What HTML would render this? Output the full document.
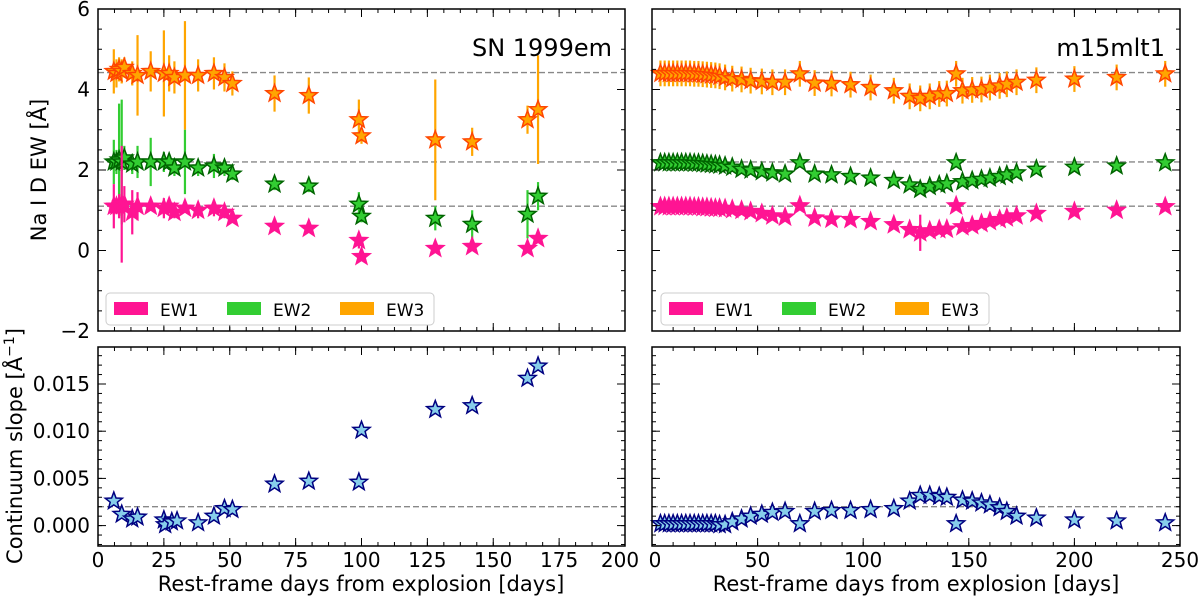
<!DOCTYPE html>
<html><head><meta charset="utf-8"><style>
body{margin:0;background:#fff;}
svg{font-family:"DejaVu Sans","Liberation Sans",sans-serif;}
</style></head><body>
<svg id="fig" width="1200" height="600" viewBox="0 0 1200 600" xmlns="http://www.w3.org/2000/svg"></svg>
<script>
// ---- SN 1999em data ----
const leftDays = [6,7,8,9,10,13,15,20,25,27,29,33,38,44,48,51,67,80,99,100,128,142,163,167];
const leftEW3 = [4.45,4.4,4.5,4.45,4.55,4.4,4.35,4.45,4.4,4.4,4.3,4.35,4.35,4.4,4.3,4.15,3.9,3.85,3.25,2.85,2.75,2.7,3.25,3.5];
const leftEW3err = [0.55,0.35,0.3,0.3,0.25,0.3,1.0,0.5,1.07,0.45,0.4,1.35,0.4,0.4,0.35,0.3,0.45,0.45,0.5,0.2,1.5,0.35,0.35,1.35];
const leftEW2 = [2.2,2.2,2.25,2.2,2.3,2.15,2.2,2.2,2.2,2.2,2.05,2.2,2.05,2.1,2.05,1.9,1.65,1.6,1.15,0.85,0.8,0.65,0.9,1.35];
const leftEW2err = [0.55,0.3,1.4,1.55,0.3,0.25,0.4,0.6,0.25,0.2,0.2,0.8,0.2,0.3,0.2,0.15,0.15,0.15,0.3,0.15,0.3,0.35,0.6,0.35];
const leftEW1 = [1.1,1.1,1.1,1.15,1.15,0.95,1.1,1.1,1.05,1.1,0.95,1.05,1.0,1.05,0.95,0.8,0.6,0.55,0.25,-0.15,0.05,0.1,0.05,0.3];
const leftEW1err = [0.55,0.2,0.3,1.45,0.45,0.55,0.35,0.1,0.25,0.1,0.15,0.1,0.2,0.2,0.15,0.1,0.05,0.05,0.2,0.1,0.05,0.05,0.05,0.1];
const leftSlopeDays = [6,9,13,15,25,25.5,28,30,38,44,48,51,67,80,99,100,128,142,163,167];
const leftSlope = [0.0026,0.0012,0.0007,0.0009,0.0006,0.0001,0.0004,0.0005,0.0003,0.0010,0.0018,0.0017,0.0044,0.0047,0.0046,0.0101,0.0123,0.0127,0.0156,0.0169];
// ---- m15mlt1 data ----
const rightDays = [4,6,8,10,12,14,16,18,20,22,24,26,28,30,32,34.6,38,42.4,46.7,52,57,63,70,77,85,94,103.5,114.5,122,127,131.5,136,139.6,144,147,151.6,156,160,164.6,168,172.6,182,200,220,243];
const rightEW3 = [4.4,4.4,4.4,4.4,4.4,4.4,4.4,4.4,4.39,4.39,4.38,4.37,4.36,4.35,4.33,4.3,4.27,4.25,4.22,4.2,4.18,4.18,4.39,4.16,4.15,4.12,4.05,3.97,3.83,3.78,3.83,3.89,3.9,4.39,3.97,3.99,4.0,4.05,4.09,4.13,4.18,4.23,4.26,4.3,4.39];
const rightEW2 = [2.18,2.18,2.18,2.18,2.18,2.18,2.18,2.18,2.17,2.17,2.16,2.15,2.14,2.13,2.12,2.1,2.07,2.02,2.0,1.96,1.93,1.9,2.18,1.9,1.88,1.84,1.8,1.74,1.63,1.52,1.59,1.63,1.66,2.18,1.71,1.74,1.77,1.8,1.84,1.88,1.93,2.02,2.07,2.1,2.18];
const rightEW1 = [1.09,1.09,1.09,1.09,1.09,1.09,1.09,1.09,1.08,1.08,1.07,1.07,1.06,1.05,1.05,1.04,1.02,1.0,0.97,0.92,0.86,0.83,1.11,0.81,0.78,0.77,0.72,0.64,0.52,0.44,0.49,0.52,0.53,1.11,0.59,0.62,0.67,0.72,0.77,0.81,0.86,0.92,0.97,1.0,1.09];
const rightSlope = [0.0002,0.0002,0.0002,0.0002,0.0002,0.0002,0.0002,0.0002,0.0002,0.0002,0.0002,0.0002,0.0002,0.0002,0.0001,0.0001,0.0004,0.0007,0.0010,0.0012,0.0014,0.0015,0.0002,0.0015,0.0016,0.0016,0.0017,0.0018,0.0026,0.0032,0.0032,0.0031,0.0030,0.0002,0.0027,0.0026,0.0024,0.0022,0.0019,0.0015,0.0010,0.0008,0.0006,0.0005,0.0003];
const refLevels = [4.42,2.2,1.1];
const slopeRef = 0.002;
const xTicksLeft = [0,25,50,75,100,125,150,175,200];
const xTicksRight = [0,50,100,150,200,250];
const yTicksTop = [-2,0,2,4,6];
const yTicksBottom = [0,0.005,0.010,0.015];
const yTickLabelsBottom = ["0.000","0.005","0.010","0.015"];

const NS = "http://www.w3.org/2000/svg";
const svg = document.getElementById('fig');
function el(tag, attrs, parent){const e=document.createElementNS(NS,tag);for(const k in attrs)e.setAttribute(k,attrs[k]);(parent||svg).appendChild(e);return e;}

const topY0=9, topY1=331, botY0=347, botY1=546;
const yTop = v => topY0 + (6 - v) * (topY1-topY0)/8;
const yBot = v => 525.6 - v * 9440;
const xLeft = d => 98 + d * 527/200;
const xRight = d => 652 + d * 528/250;
const STAR_R = 9;

function starPath(cx,cy,r){
  let p='';
  for(let i=0;i<10;i++){
    const rr = i%2===0 ? r : r*0.42;
    const a = -Math.PI/2 + i*Math.PI/5;
    p += (i?'L':'M') + (cx+rr*Math.cos(a)).toFixed(2)+','+(cy+rr*Math.sin(a)).toFixed(2);
  }
  return p+'Z';
}

function panelFrame(x0,x1,y0,y1,name,xf,xMaj,xMinStep,xMax,yf,yMajVals,yMinStep,yMin,yMax){
  const g = el('g',{});
  
  
  for(let d=0; d<=xMax+1e-9; d+=xMinStep){
    const x=xf(d);
    el('line',{x1:x,x2:x,y1:y1,y2:y1-4,stroke:'#000','stroke-width':1},g);
    el('line',{x1:x,x2:x,y1:y0,y2:y0+4,stroke:'#000','stroke-width':1},g);
  }
  xMaj.forEach(d=>{const x=xf(d);
    el('line',{x1:x,x2:x,y1:y1,y2:y1-8,stroke:'#000','stroke-width':1},g);
    el('line',{x1:x,x2:x,y1:y0,y2:y0+8,stroke:'#000','stroke-width':1},g);});
  for(let v=yMin; v<=yMax+1e-12; v+=yMinStep){
    const y=yf(v); if(y<y0||y>y1) continue;
    el('line',{x1:x0,x2:x0+4,y1:y,y2:y,stroke:'#000','stroke-width':1},g);
    el('line',{x1:x1,x2:x1-4,y1:y,y2:y,stroke:'#000','stroke-width':1},g);
  }
  yMajVals.forEach(v=>{const y=yf(v);
    el('line',{x1:x0,x2:x0+8,y1:y,y2:y,stroke:'#000','stroke-width':1},g);
    el('line',{x1:x1,x2:x1-8,y1:y,y2:y,stroke:'#000','stroke-width':1},g);});
  el('rect',{x:x0,y:y0,width:x1-x0,height:y1-y0,fill:'none',stroke:'#000','stroke-width':1.5},g);
  return g;
}

function dashed(x0,x1,y,name){
  const l=el('line',{x1:x0,x2:x1,y1:y,y2:y,stroke:'#888','stroke-width':1.4,'stroke-dasharray':'6,3'});
  
  
}

function series(days, vals, errs, xf, yf, fill, edge, errCol, name){
  const g=el('g',{});
  
  
  days.forEach((d,i)=>{
    const x=xf(d);
    if(errs){const e=errs[i];
      el('line',{x1:x,x2:x,y1:yf(vals[i]+e),y2:yf(vals[i]-e),stroke:errCol,'stroke-width':2.2},g);}
  });
  days.forEach((d,i)=>{
    const s=el('path',{d:starPath(xf(d),yf(vals[i]),STAR_R),fill:fill,stroke:edge,'stroke-width':1.5},g);
    
    
  });
}

function text(x,y,str,opts,name){
  const t=el('text',Object.assign({x:x,y:y,'font-size':20,fill:'#000'},opts||{}));
  t.textContent=str;
  
  
  return t;
}

const LX0=98, LX1=625, RX0=652, RX1=1180;
refLevels.forEach(v=>{dashed(LX0,LX1,yTop(v),'reference-line-left');dashed(RX0,RX1,yTop(v),'reference-line-right');});
dashed(LX0,LX1,yBot(slopeRef),'slope-reference-left');
dashed(RX0,RX1,yBot(slopeRef),'slope-reference-right');

series(leftDays,leftEW3,leftEW3err,xLeft,yTop,'#ffa500','#ff4500','#ffa500','ew3-series-sn1999em');
series(leftDays,leftEW2,leftEW2err,xLeft,yTop,'#32cd32','#006400','#32cd32','ew2-series-sn1999em');
series(leftDays,leftEW1,leftEW1err,xLeft,yTop,'#ff1493','#ff1493','#ff1493','ew1-series-sn1999em');
const rE3 = rightDays.map(()=>0.32), rE2 = rightDays.map(()=>0.1), rE1 = rightDays.map(d=> d===127?0.45:0.06);
series(rightDays,rightEW3,rE3,xRight,yTop,'#ffa500','#ff4500','#ffa500','ew3-series-m15mlt1');
series(rightDays,rightEW2,rE2,xRight,yTop,'#32cd32','#006400','#32cd32','ew2-series-m15mlt1');
series(rightDays,rightEW1,rE1,xRight,yTop,'#ff1493','#ff1493','#ff1493','ew1-series-m15mlt1');
series(leftSlopeDays,leftSlope,null,xLeft,yBot,'#87ceeb','#000080',null,'slope-series-sn1999em');
series(rightDays,rightSlope,null,xRight,yBot,'#87ceeb','#000080',null,'slope-series-m15mlt1');

panelFrame(LX0,LX1,topY0,topY1,'ew-panel-sn1999em',xLeft,xTicksLeft,6.25,200,yTop,yTicksTop,0.5,-2,6);
panelFrame(RX0,RX1,topY0,topY1,'ew-panel-m15mlt1',xRight,xTicksRight,10,250,yTop,yTicksTop,0.5,-2,6);
panelFrame(LX0,LX1,botY0,botY1,'slope-panel-sn1999em',xLeft,xTicksLeft,6.25,200,yBot,yTicksBottom,0.001,-0.002,0.019);
panelFrame(RX0,RX1,botY0,botY1,'slope-panel-m15mlt1',xRight,xTicksRight,10,250,yBot,yTicksBottom,0.001,-0.002,0.019);

yTicksTop.forEach(v=>text(LX0-8,yTop(v)+7,String(v).replace('-','−'),{'text-anchor':'end'},'y-tick-label'));
yTicksBottom.forEach((v,i)=>text(LX0-8,yBot(v)+7,yTickLabelsBottom[i],{'text-anchor':'end'},'y-tick-label-slope'));
xTicksLeft.forEach(d=>text(xLeft(d)-(d===200?5:0),567,String(d),{'text-anchor':'middle'},'x-tick-label-left'));
xTicksRight.forEach(d=>text(xRight(d)+(d===0?3:0),567,String(d),{'text-anchor':'middle'},'x-tick-label-right'));

text(361,591,'Rest-frame days from explosion [days]',{'text-anchor':'middle','font-size':21},'x-axis-title-left');
text(916,591,'Rest-frame days from explosion [days]',{'text-anchor':'middle','font-size':21},'x-axis-title-right');
text(0,0,'Na I D EW [Å]',{'text-anchor':'middle','font-size':21,transform:'translate(46,170) rotate(-90)'},'y-axis-title-ew');
const yt=text(0,0,'Continuum slope [Å',{'text-anchor':'middle','font-size':21,transform:'translate(22,446) rotate(-90)'},'y-axis-title-slope');
const ts=el('tspan',{'baseline-shift':'super','font-size':14},yt); ts.textContent='−1';
const ts2=el('tspan',{'baseline-shift':'baseline'},yt); ts2.textContent=']';

text(612,56,'SN 1999em',{'text-anchor':'end','font-size':24},'panel-title-sn1999em');
text(1165,56,'m15mlt1',{'text-anchor':'end','font-size':24},'panel-title-m15mlt1');

function legend(x0,name){
  const g=el('g',{});
  
  
  el('rect',{x:x0,y:293,width:328,height:32,rx:4,fill:'#fff',stroke:'#ccc','stroke-width':1},g);
  const items=[['EW1','#ff1493'],['EW2','#32cd32'],['EW3','#ffa500']];
  items.forEach((it,i)=>{
    const px=x0+8+i*113;
    const r=el('rect',{x:px,y:302,width:34,height:13,fill:it[1]},g);
    
    
    const t=el('text',{x:px+46,y:316,'font-size':17,fill:'#000'},g); t.textContent=it[0];
    
    
  });
}
legend(106,'legend-sn1999em');
legend(661,'legend-m15mlt1');
</script>
</body></html>
